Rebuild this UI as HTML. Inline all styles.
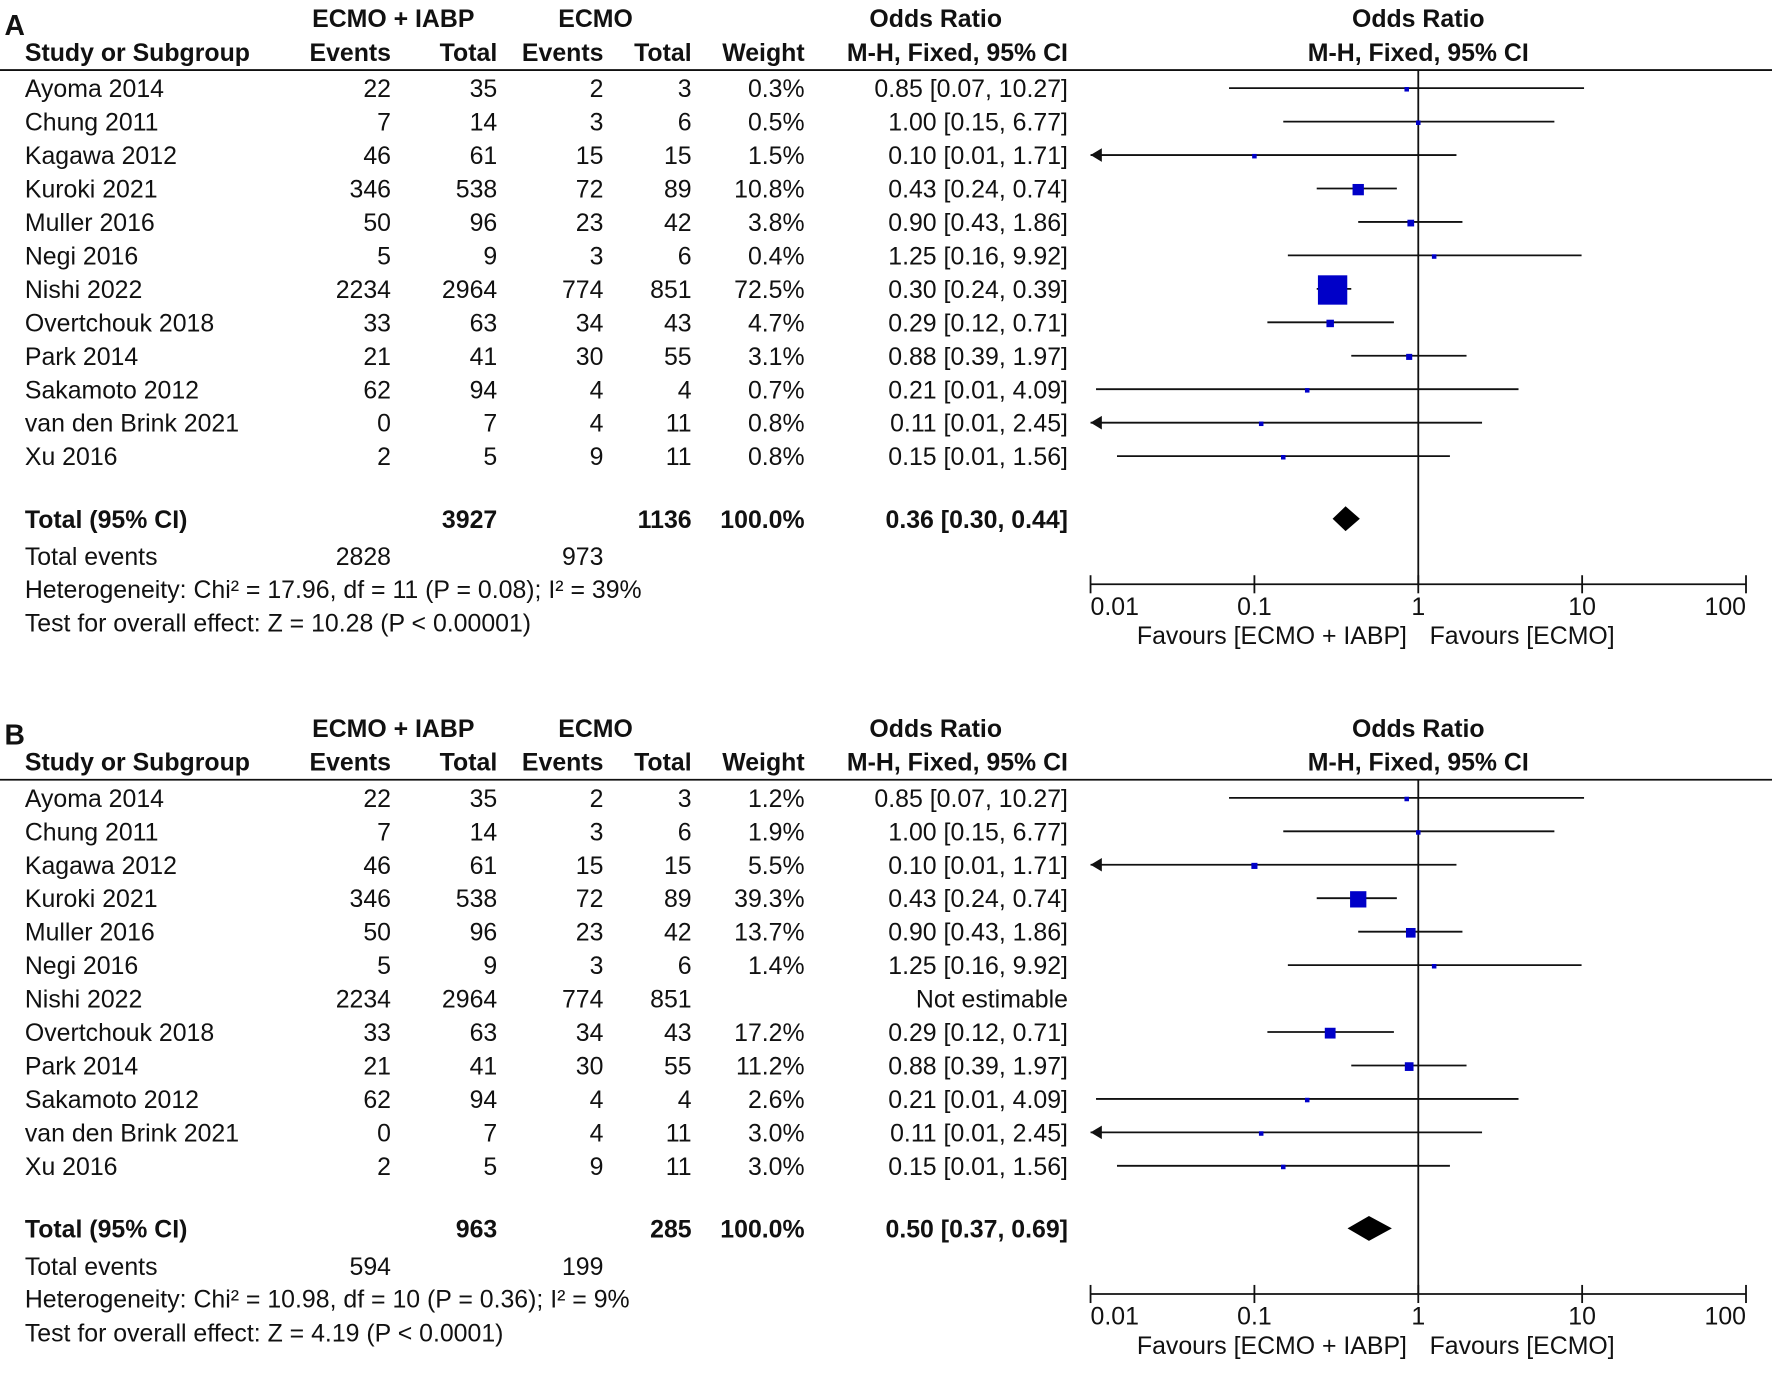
<!DOCTYPE html>
<html><head><meta charset="utf-8"><style>
html,body{margin:0;padding:0;background:#fff;}
svg{display:block;}
text{font-family:"Liberation Sans","DejaVu Sans",sans-serif;font-size:22px;fill:#111;}
.b{font-weight:bold;}
</style></head><body>
<svg id="fig" xmlns="http://www.w3.org/2000/svg" width="1772" height="1381" viewBox="0 0 1568 1222" preserveAspectRatio="none"></svg>
<script>
const studies = ["Ayoma 2014","Chung 2011","Kagawa 2012","Kuroki 2021","Muller 2016","Negi 2016","Nishi 2022","Overtchouk 2018","Park 2014","Sakamoto 2012","van den Brink 2021","Xu 2016"];
const events1 = [22,7,46,346,50,5,2234,33,21,62,0,2];
const total1 = [35,14,61,538,96,9,2964,63,41,94,7,5];
const events2 = [2,3,15,72,23,3,774,34,30,4,4,9];
const total2 = [3,6,15,89,42,6,851,43,55,4,11,11];
const orVals = [0.85,1.00,0.10,0.43,0.90,1.25,0.30,0.29,0.88,0.21,0.11,0.15];
const ciLow = [0.07,0.15,0.006,0.24,0.43,0.16,0.24,0.12,0.39,0.0108,0.005,0.0145];
const ciHigh = [10.27,6.77,1.71,0.74,1.86,9.92,0.39,0.71,1.97,4.09,2.45,1.56];
const weightsA = [0.3,0.5,1.5,10.8,3.8,0.4,72.5,4.7,3.1,0.7,0.8,0.8];
const weightsB = [1.2,1.9,5.5,39.3,13.7,1.4,null,17.2,11.2,2.6,3.0,3.0];
const totalA = {t1:"3927",t2:"1136",or:0.36,lo:0.30,hi:0.44,e1:"2828",e2:"973",het:"Heterogeneity: Chi² = 17.96, df = 11 (P = 0.08); I² = 39%",test:"Test for overall effect: Z = 10.28 (P < 0.00001)"};
const totalB = {t1:"963",t2:"285",or:0.50,lo:0.37,hi:0.69,e1:"594",e2:"199",het:"Heterogeneity: Chi² = 10.98, df = 10 (P = 0.36); I² = 9%",test:"Test for overall effect: Z = 4.19 (P < 0.0001)"};
const tickVals = [0.01,0.1,1,10,100];
const tickLabels = ["0.01","0.1","1","10","100"];

const NS="http://www.w3.org/2000/svg";
const svg=document.getElementById('fig');
function xs(v){return 1255+145*Math.log10(v);}
function mk(tag,attrs,parent){const e=document.createElementNS(NS,tag);for(const k in attrs)e.setAttribute(k,attrs[k]);(parent||svg).appendChild(e);return e;}
function txt(s,x,y,anchor,cls,parent){const e=mk('text',{x:x,y:y,'text-anchor':anchor||'start'},parent);if(cls)e.setAttribute('class',cls);e.textContent=s;return e;}
function fmt(v){return v.toFixed(2);}

function panel(label,oy,weights,tot,k){
  const g=mk('g',{transform:'translate(0,'+oy+')'});
  
  
  let t=txt(label,4,31,'start','b',g);t.style.fontSize='25px';
  
  
  txt("ECMO + IABP",348,24,'middle','b',g);
  txt("ECMO",527,24,'middle','b',g);
  txt("Odds Ratio",828,24,'middle','b',g);
  txt("Odds Ratio",1255,24,'middle','b',g);
  txt("Study or Subgroup",22,54,'start','b',g);
  txt("Events",346,54,'end','b',g);
  txt("Total",440,54,'end','b',g);
  txt("Events",534,54,'end','b',g);
  txt("Total",612,54,'end','b',g);
  txt("Weight",712,54,'end','b',g);
  txt("M-H, Fixed, 95% CI",945,54,'end','b',g);
  txt("M-H, Fixed, 95% CI",1255,54,'middle','b',g);
  const hl=mk('line',{x1:0,y1:62,x2:1568,y2:62,stroke:'#111','stroke-width':1.6},g);
  
  
  const vl=mk('line',{x1:xs(1),y1:62,x2:xs(1),y2:517,stroke:'#111','stroke-width':1.6},g);
  
  
  for(let i=0;i<studies.length;i++){
    const cy=78+i*29.6, by=cy+8;
    const row=mk('g',{},g);
    
    
    txt(studies[i],22,by,'start',null,row);
    txt(String(events1[i]),346,by,'end',null,row);
    txt(String(total1[i]),440,by,'end',null,row);
    txt(String(events2[i]),534,by,'end',null,row);
    txt(String(total2[i]),612,by,'end',null,row);
    if(weights[i]===null){
      txt("Not estimable",945,by,'end',null,row);
      continue;
    }
    txt(weights[i].toFixed(1)+"%",712,by,'end',null,row);
    txt(fmt(orVals[i])+" ["+fmt(ciLow[i])+", "+fmt(ciHigh[i])+"]",945,by,'end',null,row);
    const truncated=ciLow[i]<0.01;
    const lo=Math.max(ciLow[i],0.01), x1=xs(lo), x2=xs(ciHigh[i]);
    const ln=mk('line',{x1:x1,y1:cy,x2:x2,y2:cy,stroke:'#111','stroke-width':1.6},row);
    
    
    if(truncated){
      const ar=mk('polygon',{points:(x1)+','+cy+' '+(x1+10)+','+(cy-6)+' '+(x1+10)+','+(cy+6),fill:'#111'},row);
      
      
    }
    const s=Math.max(4,k*Math.sqrt(weights[i]));
    const sq=mk('rect',{x:xs(orVals[i])-s/2,y:cy-s/2+1,width:s,height:s,fill:'#0000c8'},row);
    
    
  }
  const ty=459;
  txt("Total (95% CI)",22,ty+8,'start','b',g);
  txt(tot.t1,440,ty+8,'end','b',g);
  txt(tot.t2,612,ty+8,'end','b',g);
  txt("100.0%",712,ty+8,'end','b',g);
  txt(fmt(tot.or)+" ["+fmt(tot.lo)+", "+fmt(tot.hi)+"]",945,ty+8,'end','b',g);
  const d=mk('polygon',{points:xs(tot.lo)+','+ty+' '+xs(tot.or)+','+(ty-11)+' '+xs(tot.hi)+','+ty+' '+xs(tot.or)+','+(ty+11),fill:'#000'},g);
  
  
  txt("Total events",22,500,'start',null,g);
  txt(tot.e1,346,500,'end',null,g);
  txt(tot.e2,534,500,'end',null,g);
  txt(tot.het,22,529,'start',null,g);
  txt(tot.test,22,559,'start',null,g);
  const ax=mk('line',{x1:xs(0.01),y1:517,x2:xs(100),y2:517,stroke:'#111','stroke-width':1.6},g);
  
  
  for(let i=0;i<tickVals.length;i++){
    const x=xs(tickVals[i]);
    const tk=mk('line',{x1:x,y1:509,x2:x,y2:525,stroke:'#111','stroke-width':1.6},g);
    
    
    const anchor=i===0?'start':(i===tickVals.length-1?'end':'middle');
    const tl=txt(tickLabels[i],x,544,anchor,null,g);
    
    
  }
  txt("Favours [ECMO + IABP]",1245,570,'end',null,g);
  txt("Favours [ECMO]",1265,570,'start',null,g);
}
panel("A",0,weightsA,totalA,3.05);
panel("B",628,weightsB,totalB,2.3);
</script>
</body></html>
